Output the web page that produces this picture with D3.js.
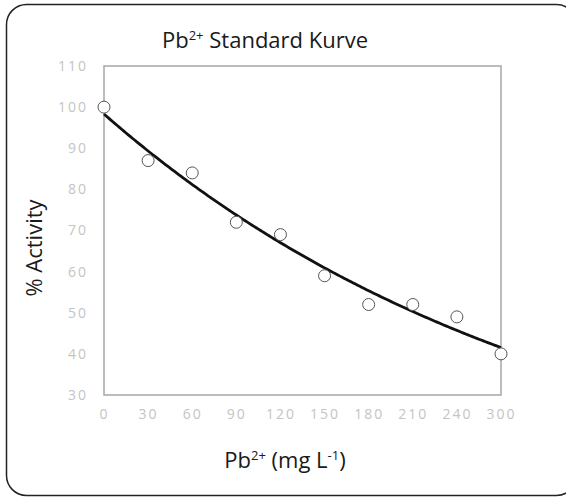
<!DOCTYPE html>
<html>
<head>
<meta charset="utf-8">
<script src="https://cdn.jsdelivr.net/npm/d3@7"></script>
<style>
  body { margin: 0; background: #fff; }
  svg text { font-family: "Open Sans", "Noto Sans", sans-serif; }
</style>
</head>
<body>
<div id="chart"></div>
<script>
// chart data
var concLabels = ["0", "30", "60", "90", "120", "150", "180", "210", "240", "300"];
var activity = [100, 87, 84, 72, 69, 59, 52, 52, 49, 40];
var yTicks = [30, 40, 50, 60, 70, 80, 90, 100, 110];

var svgWidth = 566;
var svgHeight = 497;

var margin = { top: 66, right: 65, bottom: 102, left: 104 };
var width = svgWidth - margin.left - margin.right;
var height = svgHeight - margin.top - margin.bottom;

var svg = d3.select("#chart")
  .append("svg")
  .attr("width", svgWidth)
  .attr("height", svgHeight);

// outer rounded frame
svg.append("rect")
  .attr("x", 6.5)
  .attr("y", 4.5)
  .attr("width", 570)
  .attr("height", 491)
  .attr("rx", 20)
  .attr("ry", 20)
  .attr("fill", "none")
  .attr("stroke", "#222")
  .attr("stroke-width", 1.5);

var chartGroup = svg.append("g")
  .attr("transform", `translate(${margin.left}, ${margin.top})`);

var xScale = d3.scalePoint()
  .domain(concLabels)
  .range([0, width]);

// index scale for the trendline
var xIndex = d3.scaleLinear()
  .domain([0, concLabels.length - 1])
  .range([0, width]);

var yScale = d3.scaleLinear()
  .domain([30, 110])
  .range([height, 0]);

// plot border
chartGroup.append("rect")
  .attr("x", 0)
  .attr("y", 0)
  .attr("width", width)
  .attr("height", height)
  .attr("fill", "none")
  .attr("stroke", "#a6a6a6")
  .attr("stroke-width", 1.5);

var bottomAxis = d3.axisBottom(xScale).tickSize(0).tickPadding(14);
var leftAxis = d3.axisLeft(yScale).tickValues(yTicks).tickSize(0).tickPadding(16);

var xAxisG = chartGroup.append("g")
  .attr("transform", `translate(0, ${height})`)
  .call(bottomAxis);

var yAxisG = chartGroup.append("g")
  .call(leftAxis);

[xAxisG, yAxisG].forEach(function(g) {
  g.select(".domain").remove();
  g.selectAll("text")
    .attr("fill", "#c4c4c4")
    .style("font-size", "14px")
    .style("letter-spacing", "2px");
});

// exponential trendline, least squares on ln(y)
var n = activity.length;
var lnY = activity.map(d => Math.log(d));
var meanX = d3.mean(d3.range(n));
var meanLn = d3.mean(lnY);
var sxy = d3.sum(d3.range(n), i => (i - meanX) * (lnY[i] - meanLn));
var sxx = d3.sum(d3.range(n), i => (i - meanX) * (i - meanX));
var b = sxy / sxx;
var a = Math.exp(meanLn - b * meanX);

var trendPts = d3.range(0, n - 1 + 0.001, 0.05).map(t => [t, a * Math.exp(b * t)]);

var line = d3.line()
  .x(d => xIndex(d[0]))
  .y(d => yScale(d[1]));

chartGroup.append("path")
  .datum(trendPts)
  .attr("d", line)
  .attr("fill", "none")
  .attr("stroke", "#111")
  .attr("stroke-width", 2.8);

chartGroup.selectAll("circle")
  .data(activity)
  .enter()
  .append("circle")
  .attr("cx", (d, i) => xScale(concLabels[i]))
  .attr("cy", d => yScale(d))
  .attr("r", 6)
  .attr("fill", "#fff")
  .attr("stroke", "#555")
  .attr("stroke-width", 1);

// title
var title = svg.append("text")
  .attr("x", 265)
  .attr("y", 48)
  .attr("text-anchor", "middle")
  .attr("fill", "#1a1a1a")
  .style("font-size", "22px");
title.append("tspan").text("Pb");
title.append("tspan").attr("dy", -8).style("font-size", "13px").text("2+");
title.append("tspan").attr("dy", 8).text(" Standard Kurve");

// x label
var xLabel = svg.append("text")
  .attr("x", 285)
  .attr("y", 468)
  .attr("text-anchor", "middle")
  .attr("fill", "#1a1a1a")
  .style("font-size", "22px");
xLabel.append("tspan").text("Pb");
xLabel.append("tspan").attr("dy", -8).style("font-size", "13px").text("2+");
xLabel.append("tspan").attr("dy", 8).text(" (mg L");
xLabel.append("tspan").attr("dy", -8).style("font-size", "13px").text("-1");
xLabel.append("tspan").attr("dy", 8).text(")");

// y label
svg.append("text")
  .attr("transform", "rotate(-90)")
  .attr("x", -248)
  .attr("y", 42)
  .attr("text-anchor", "middle")
  .attr("fill", "#1a1a1a")
  .style("font-size", "22px")
  .text("% Activity");
</script>
</body>
</html>
